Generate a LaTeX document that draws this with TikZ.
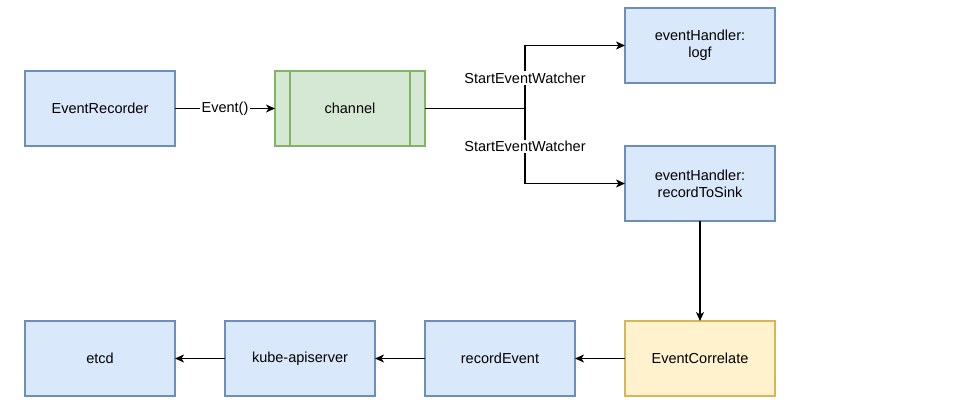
\documentclass[tikz,border=0pt]{standalone}
\usepackage{fontspec}
\setmainfont{Liberation Sans}
\usetikzlibrary{arrows.meta,positioning}
\definecolor{bfill}{HTML}{DAE8FC}
\definecolor{bdraw}{HTML}{6C8EBF}
\definecolor{gfill}{HTML}{D5E8D4}
\definecolor{gdraw}{HTML}{82B366}
\definecolor{yfill}{HTML}{FFF2CC}
\definecolor{ydraw}{HTML}{D6B656}
\begin{document}
\begin{tikzpicture}[x=1pt,y=-1pt,
  font=\fontsize{14.5}{17}\selectfont,
  box/.style={draw, line width=1.2pt, minimum width=150pt, minimum height=75pt, outer sep=0pt, inner sep=2pt, align=center},
  bluebox/.style={box, fill=bfill, draw=bdraw},
  greenbox/.style={box, fill=gfill, draw=gdraw},
  yellowbox/.style={box, fill=yfill, draw=ydraw},
  arr/.style={line width=1.2pt, -{Stealth[length=9pt,width=8pt,inset=2.5pt]}},
  ln/.style={line width=1.2pt},
  lbl/.style={fill=white, inner sep=1.5pt}
]
\useasboundingbox (0,0) rectangle (965,418);

\node[bluebox] (rec) at (100,108.5) {EventRecorder};
\node[greenbox] (ch) at (350,108.5) {channel};
\draw[line width=1.2pt, draw=gdraw] ([xshift=15pt]ch.north west) -- ([xshift=15pt]ch.south west);
\draw[line width=1.2pt, draw=gdraw] ([xshift=-15pt]ch.north east) -- ([xshift=-15pt]ch.south east);
\node[bluebox] (logf) at (700,45.5) {eventHandler:\\logf};
\node[bluebox] (sink) at (700,183.5) {eventHandler:\\recordToSink};
\node[bluebox] (etcd) at (100,358.5) {etcd};
\node[bluebox] (kube) at (300,358.5) {kube-apiserver};
\node[bluebox] (recev) at (500,358.5) {recordEvent};
\node[yellowbox] (corr) at (700,358.5) {EventCorrelate};

\draw[arr] (rec) -- node[lbl] {Event()} (ch);

\coordinate (br) at (525,108.5);
\draw[ln] (ch.east) -- (br);
\draw[arr] (br) |- (logf.west);
\draw[arr] (br) |- (sink.west);
\node[lbl] (l1) at (525,78) {StartEventWatcher};
\node[lbl] (l2) at (525,146.5) {StartEventWatcher};

\draw[arr] (sink) -- (corr);
\draw[arr] (corr) -- (recev);
\draw[arr] (recev) -- (kube);
\draw[arr] (kube) -- (etcd);
\end{tikzpicture}
\end{document}
